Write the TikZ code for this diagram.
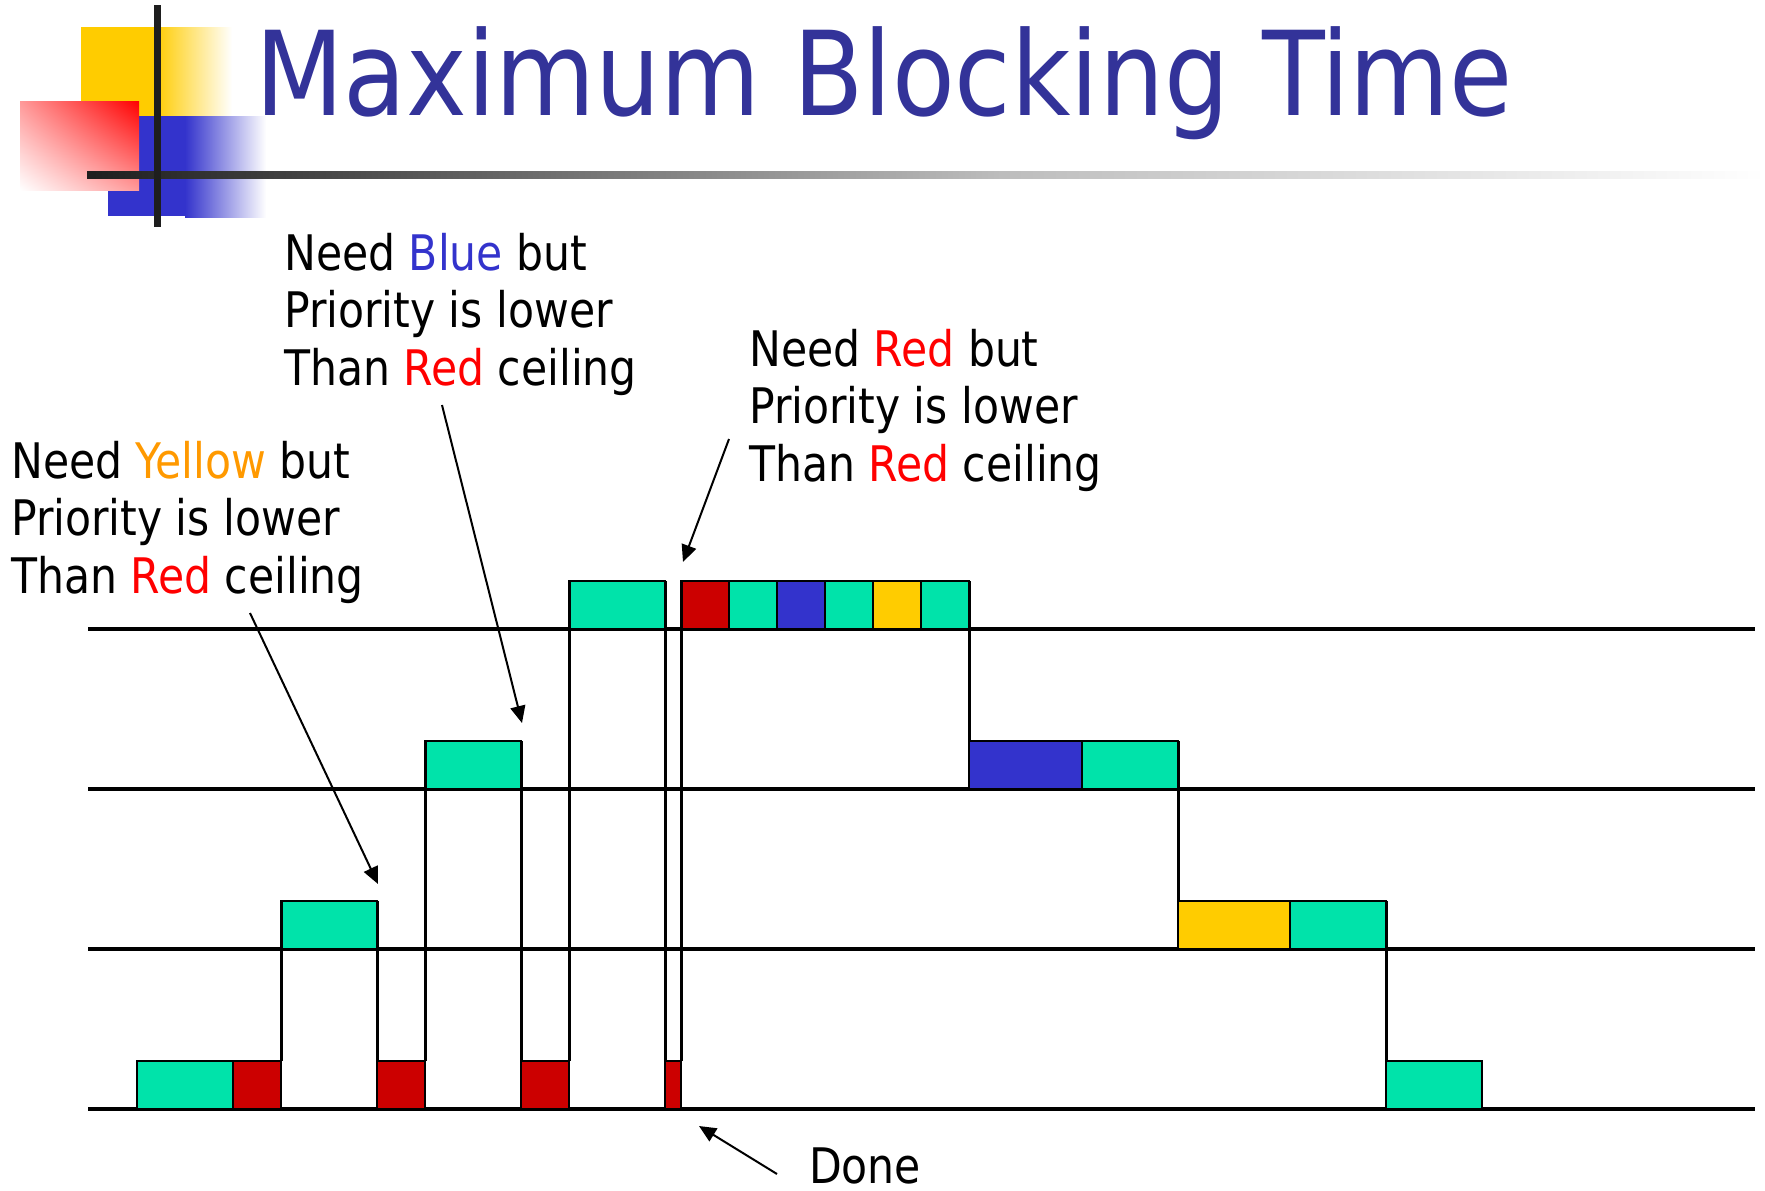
\documentclass[tikz,border=0pt]{standalone}
\usepackage{fontspec}
\setmainfont{DejaVu Sans Condensed}[FakeStretch=0.965]
\newfontfamily\titlefont{DejaVu Sans Condensed}[FakeStretch=0.975]
\usetikzlibrary{arrows.meta,shadings}

\definecolor{slotgreen}{HTML}{00E3AA}
\definecolor{slotred}{HTML}{CC0000}
\definecolor{slotblue}{HTML}{3333CC}
\definecolor{slotyellow}{HTML}{FFCC00}
\definecolor{titleblue}{HTML}{333399}
\definecolor{txtred}{HTML}{FF0000}
\definecolor{txtorange}{HTML}{FF9900}
\definecolor{bardark}{HTML}{1E1E1E}

\begin{document}
\begin{tikzpicture}[x=1pt,y=-1pt,
  slot/.style={draw=black, line width=2.7pt, minimum height=48pt, inner sep=0pt, outer sep=0pt, anchor=south west},
  levelline/.style={line width=3.3pt},
  trace/.style={line width=3pt},
  callout/.style={line width=2pt, -{Triangle[length=17pt,width=15pt]}},
  note/.style={anchor=base west, align=left, inner sep=0pt, font=\fontsize{49}{57.5}\selectfont}
]
\useasboundingbox (0,0) rectangle (1765,1191);

% ---- logo ----
\fill[slotyellow] (81,27) rectangle (155,116);
\shade[left color=slotyellow, right color=white] (155,27) rectangle (232,116);
\fill[slotblue] (108,116) rectangle (186,216);
\shade[left color=slotblue, right color=white] (185,116) rectangle (266,217);
\shade[upper right=red, upper left=red!40!white, lower right=red!40!white, lower left=white] (20,101) rectangle (139,190);
\shade[left color=bardark, right color=black!26] (87,171) rectangle (1000,178);
\shade[left color=black!26, right color=white] (1000,171) rectangle (1765,178);
\fill[bardark] (154,5) rectangle (161,227);

% ---- title ----
\node[anchor=base west, inner sep=0pt, text=titleblue,
      font=\titlefont\fontsize{117}{120}\selectfont] (title) at (255,115) {Maximum Blocking Time};

% ---- priority levels ----
\foreach \n/\y in {l3/629, l2/789, l1/949, l0/1109}{
  \coordinate (\n w) at (88,\y);
  \coordinate (\n e) at (1755,\y);
  \draw[levelline] (\n w) -- (\n e);
}

% ---- execution slots ----
% lowest level
\node[slot, fill=slotgreen,  minimum width=96pt] (a1) at (137,1109) {};
\node[slot, fill=slotred,    minimum width=48pt] (r1) at (233,1109) {};
\node[slot, fill=slotred,    minimum width=48pt] (r2) at (377,1109) {};
\node[slot, fill=slotred,    minimum width=48pt] (r3) at (521,1109) {};
\node[slot, fill=slotred,    minimum width=16pt] (r4) at (665,1109) {};
\node[slot, fill=slotgreen,  minimum width=96pt] (f0) at (1386,1109) {};
% level 1
\node[slot, fill=slotgreen,  minimum width=96pt] (g2) at (281,949) {};
\node[slot, fill=slotyellow, minimum width=112pt] (y1) at (1178,949) {};
\node[slot, fill=slotgreen,  minimum width=96pt] (y1g) at (1290,949) {};
% level 2
\node[slot, fill=slotgreen,  minimum width=96pt] (g3) at (425,789) {};
\node[slot, fill=slotblue,   minimum width=113pt] (b2) at (969,789) {};
\node[slot, fill=slotgreen,  minimum width=96pt] (b2g) at (1082,789) {};
% level 3
\node[slot, fill=slotgreen,  minimum width=96pt] (g4) at (569,629) {};
\node[slot, fill=slotred,    minimum width=48pt] (c1) at (681,629) {};
\node[slot, fill=slotgreen,  minimum width=48pt] (c2) at (729,629) {};
\node[slot, fill=slotblue,   minimum width=48pt] (c3) at (777,629) {};
\node[slot, fill=slotgreen,  minimum width=48pt] (c4) at (825,629) {};
\node[slot, fill=slotyellow, minimum width=48pt] (c5) at (873,629) {};
\node[slot, fill=slotgreen,  minimum width=48pt] (c6) at (921,629) {};

% ---- priority changes ----
\draw[trace] (r1.north east) -- (g2.north west);
\draw[trace] (g2.north east) -- (r2.north west);
\draw[trace] (r2.north east) -- (g3.north west);
\draw[trace] (g3.north east) -- (r3.north west);
\draw[trace] (r3.north east) -- (g4.north west);
\draw[trace] (g4.north east) -- (r4.north west);
\draw[trace] (r4.north east) -- (c1.north west);
\draw[trace] (c6.north east) -- (b2.north west);
\draw[trace] (b2g.north east) -- (y1.north west);
\draw[trace] (y1g.north east) -- (f0.north west);

% ---- notes (anchored at the baseline of their last line) ----
\node[note] (ny) at (11,593) {Need \textcolor{txtorange}{Yellow} but\\Priority is lower\\Than \textcolor{txtred}{Red} ceiling};
\node[note] (nb) at (284,385) {Need \textcolor{slotblue}{Blue} but\\Priority is lower\\Than \textcolor{txtred}{Red} ceiling};
\node[note] (nr) at (749,481) {Need \textcolor{txtred}{Red} but\\Priority is lower\\Than \textcolor{txtred}{Red} ceiling};
\node[note] (done) at (809,1183) {Done};

% ---- callout arrows ----
\coordinate (yt) at (250,613);  \coordinate (yh) at (378,884);
\coordinate (bt) at (442,405);  \coordinate (bh) at (522,723);
\coordinate (rt) at (729,439);  \coordinate (rh) at (683,562);
\coordinate (dt) at (777,1174); \coordinate (dh) at (699,1126);
\draw[callout] (yt) -- (yh);
\draw[callout] (bt) -- (bh);
\draw[callout] (rt) -- (rh);
\draw[callout] (dt) -- (dh);
\end{tikzpicture}
\end{document}
